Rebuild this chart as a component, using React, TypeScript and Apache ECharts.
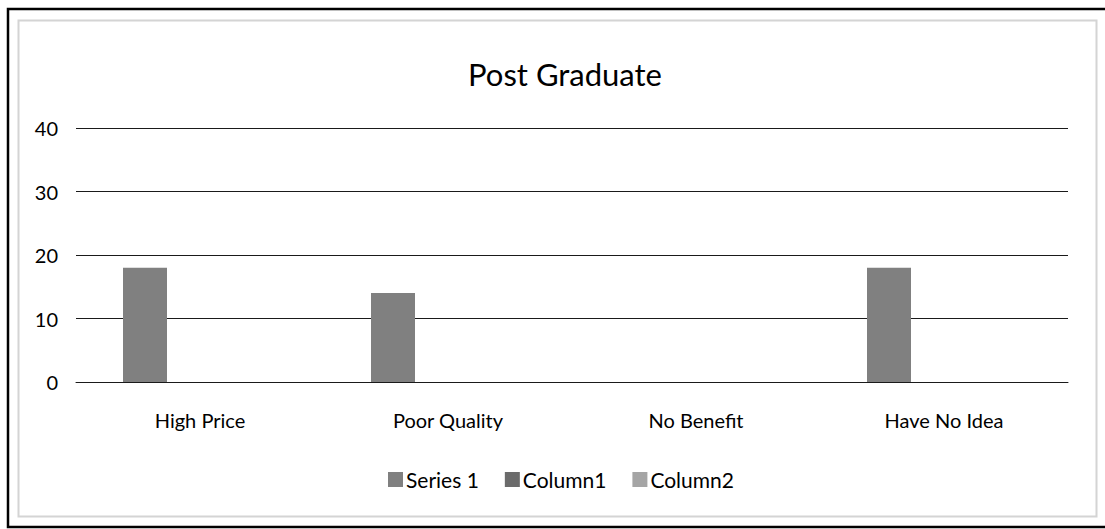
import React, { useEffect, useRef } from "react";
import * as echarts from "echarts";

const categories = ["High Price", "Poor Quality", "No Benefit", "Have No Idea"];
const series1 = [18, 14, null, 18];
const column1 = [null, null, null, null];
const column2 = [null, null, null, null];
const seriesNames = ["Series 1", "Column1", "Column2"];
const seriesColors = ["#808080", "#6b6b6b", "#a5a5a5"];

const FONT = "Lato, 'Open Sans', sans-serif";

export default function App() {
  const ref = useRef<HTMLDivElement>(null);

  useEffect(() => {
    if (!ref.current) return;
    const chart = echarts.init(ref.current, undefined, { renderer: "svg" });
    const values = [series1, column1, column2];
    chart.setOption({
      animation: false,
      backgroundColor: "#ffffff",
      textStyle: { fontFamily: FONT, color: "#000" },
      title: {
        text: "Post Graduate",
        left: 560,
        textAlign: "center",
        top: 53,
        textStyle: { fontFamily: FONT, fontSize: 31, fontWeight: "normal", color: "#000" },
      },
      legend: {
        left: 383,
        top: 464,
        itemWidth: 15,
        itemHeight: 15,
        itemGap: 26,
        icon: "rect",
        textStyle: { fontFamily: FONT, fontSize: 21, color: "#000", padding: [0, 0, 0, -2] },
        data: seriesNames,
      },
      grid: { left: 76, right: 37, top: 128, bottom: 147, containLabel: false },
      xAxis: {
        type: "category",
        data: categories,
        axisTick: { show: false },
        axisLine: { show: true, lineStyle: { color: "#1a1a1a", width: 1 } },
        axisLabel: { fontFamily: FONT, fontSize: 20, color: "#000", margin: 28 },
      },
      yAxis: {
        type: "value",
        min: 0,
        max: 40,
        interval: 10,
        axisLine: { show: false },
        axisTick: { show: false },
        axisLabel: { fontFamily: FONT, fontSize: 20, color: "#000", margin: 18 },
        splitLine: { lineStyle: { color: "#1a1a1a", width: 1 } },
      },
      series: seriesNames.map((name, i) => ({
        name,
        type: "bar",
        data: values[i],
        barWidth: 44,
        barGap: "25%",
        itemStyle: { color: seriesColors[i] },
      })),
      graphic: [
        {
          type: "rect",
          shape: { x: 8, y: 9, width: 1100, height: 518 },
          style: { fill: "none", stroke: "#000", lineWidth: 2.5 },
          silent: true,
        },
        {
          type: "rect",
          shape: { x: 18.5, y: 20.5, width: 1078, height: 496 },
          style: { fill: "none", stroke: "#d4d4d4", lineWidth: 2 },
          silent: true,
        },
      ],
    });
    return () => chart.dispose();
  }, []);

  return (
    <div
      ref={ref}
      style={{ position: "absolute", left: 0, top: 0, width: 1105, height: 529 }}
    />
  );
}
